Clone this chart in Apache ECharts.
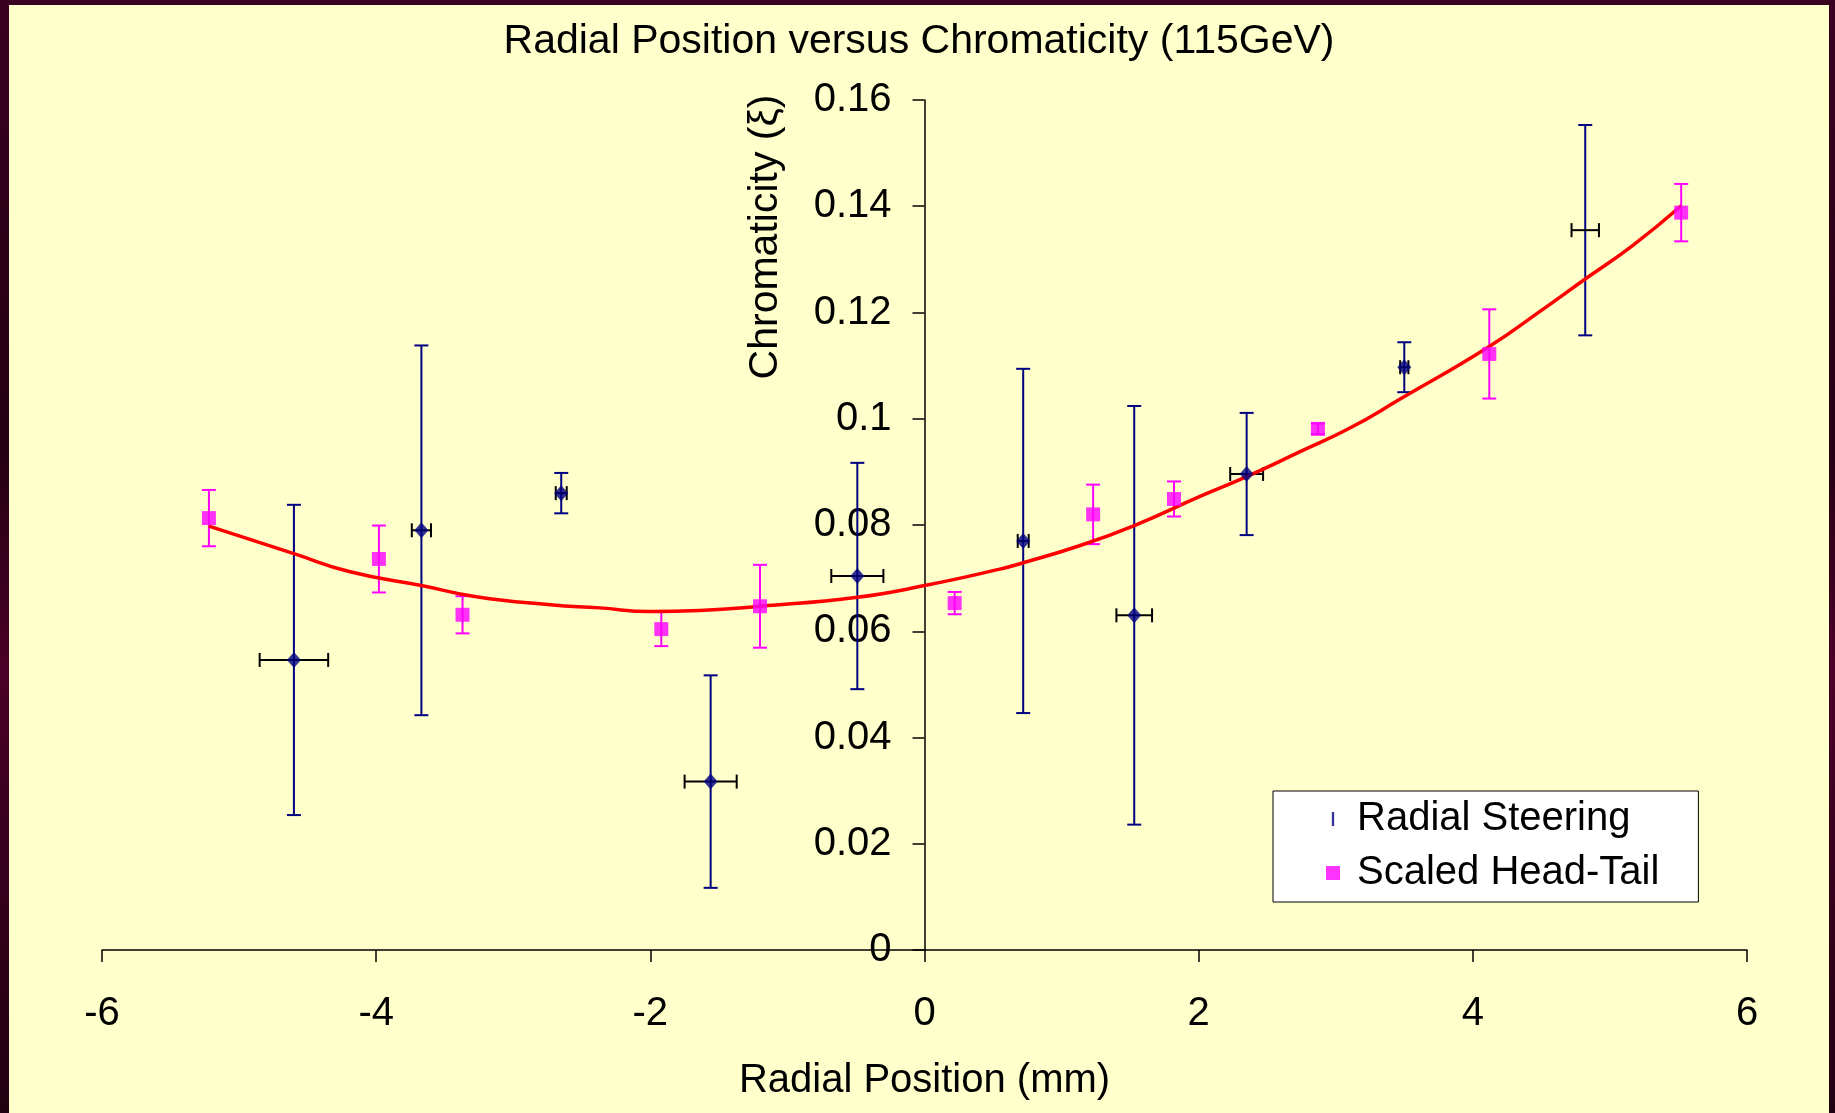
<!DOCTYPE html>
<html><head><meta charset="utf-8">
<script src="https://cdn.jsdelivr.net/npm/echarts@6/dist/echarts.min.js"></script>
<style>
html,body{margin:0;padding:0;width:1835px;height:1113px;overflow:hidden;background:#200010;}
#frame{position:absolute;left:0;top:0;width:1835px;height:1113px;background:linear-gradient(180deg,#3a0020 0%,#240012 40%,#4a0026 60%,#200010 100%);}
#chart{position:absolute;left:9px;top:5px;width:1820px;height:1108px;}
</style></head><body><div id="frame"></div><div id="chart"></div>
<script>
// Radial Steering (diamonds, x and y error bars)
const steerX    = [-4.60, -3.67, -2.65, -1.56, -0.49, 0.72, 1.53, 2.35, 3.50, 4.82];
const steerY    = [0.0546, 0.0790, 0.0860, 0.0317, 0.0704, 0.0770, 0.0630, 0.0896, 0.1097, 0.1355];
const steerYErr = [0.0292, 0.0348, 0.0038, 0.0200, 0.0213, 0.0324, 0.0394, 0.0115, 0.0047, 0.0198];
const steerXErr = [0.25, 0.07, 0.04, 0.19, 0.19, 0.04, 0.13, 0.12, 0.03, 0.10];
// Scaled Head-Tail (squares, y error bars)
const headX   = [-5.22, -3.98, -3.37, -1.92, -1.20, 0.22, 1.23, 1.82, 2.87, 4.12, 5.52];
const headY   = [0.0813, 0.0736, 0.0631, 0.0604, 0.0647, 0.0653, 0.0820, 0.0849, 0.0981, 0.1122, 0.1388];
const headErr = [0.0053, 0.0063, 0.0035, 0.0032, 0.0078, 0.0021, 0.0056, 0.0033, 0.0010, 0.0084, 0.0054];
// Fit curve (red)
const fitX = [-5.22, -4.60, -4.19, -3.67, -3.27, -2.73, -2.37, -2.00, -1.64, -1.20, -0.49, 0.00, 0.55, 0.72, 1.13, 1.53, 2.01, 2.35, 2.74, 3.10, 3.47, 4.12, 4.49, 4.82, 5.17, 5.52];
const fitY = [0.0798, 0.0746, 0.0712, 0.0686, 0.0665, 0.0650, 0.0644, 0.0637, 0.0639, 0.0647, 0.0664, 0.0686, 0.0717, 0.0729, 0.0761, 0.0799, 0.0854, 0.0891, 0.0938, 0.0982, 0.1037, 0.1136, 0.1202, 0.1263, 0.1327, 0.1401];
// Axes
const xRange = [-6, 6, 2];
const yRange = [0, 0.16, 0.02];
const titleText = 'Radial Position versus Chromaticity (115GeV)';
const xName = 'Radial Position (mm)';
const yName = 'Chromaticity (ξ)';
const seriesNames = ['Radial Steering', 'Scaled Head-Tail'];
const hiddenSteerMarker = 9;

const FONT = '"Liberation Sans", Arial, sans-serif';
const NAVY = '#000080', MAGENTA = '#FF00FF';
const GRID = { left: 93, right: 82, top: 95, bottom: 163 };
const CHART_W = 1820;

function vErr(color, cap) {
  return function (params, api) {
    const x = api.value(0), y = api.value(1), e = api.value(2);
    const hi = api.coord([x, y + e]), lo = api.coord([x, y - e]);
    const st = { stroke: color, lineWidth: 2 };
    return { type: 'group', children: [
      { type: 'line', shape: { x1: hi[0], y1: hi[1], x2: lo[0], y2: lo[1] }, style: st },
      { type: 'line', shape: { x1: hi[0] - cap, y1: hi[1], x2: hi[0] + cap, y2: hi[1] }, style: st },
      { type: 'line', shape: { x1: lo[0] - cap, y1: lo[1], x2: lo[0] + cap, y2: lo[1] }, style: st }
    ]};
  };
}
function hErr(color, cap) {
  return function (params, api) {
    const x = api.value(0), y = api.value(1), e = api.value(2);
    const l = api.coord([x - e, y]), r = api.coord([x + e, y]);
    const st = { stroke: color, lineWidth: 2 };
    return { type: 'group', children: [
      { type: 'line', shape: { x1: l[0], y1: l[1], x2: r[0], y2: r[1] }, style: st },
      { type: 'line', shape: { x1: l[0], y1: l[1] - cap, x2: l[0], y2: l[1] + cap }, style: st },
      { type: 'line', shape: { x1: r[0], y1: r[1] - cap, x2: r[0], y2: r[1] + cap }, style: st }
    ]};
  };
}

// y axis sits at x = 0: shift it from the grid's left edge to the x=0 position
const plotW = CHART_W - GRID.left - GRID.right;
const yAxisShift = -plotW * (0 - xRange[0]) / (xRange[1] - xRange[0]);

const chart = echarts.init(document.getElementById('chart'));
chart.setOption({
  animation: false,
  backgroundColor: '#FFFFCC',
  textStyle: { fontFamily: FONT },
  title: { text: titleText, left: 'center', top: 11,
    textStyle: { fontSize: 41, fontWeight: 'normal', color: '#000', fontFamily: FONT } },
  grid: Object.assign({ containLabel: false, outerBoundsMode: 'none' }, GRID),
  legend: {
    orient: 'vertical', left: 1264, top: 786,
    padding: [8, 39, 9, 53], backgroundColor: '#fff', borderColor: '#000', borderWidth: 1, borderRadius: 0,
    itemWidth: 14, itemHeight: 14, itemGap: 14,
    textStyle: { fontSize: 40, color: '#000', fontFamily: FONT, lineHeight: 40, padding: [0, 0, 0, 12] },
    data: [
      { name: seriesNames[0], icon: 'path://M0,0H2V12H0Z' },
      { name: seriesNames[1], icon: 'rect' }
    ]
  },
  xAxis: {
    type: 'value', min: xRange[0], max: xRange[1], interval: xRange[2],
    name: xName, nameLocation: 'middle', nameGap: 111,
    nameTextStyle: { fontSize: 40, color: '#000', fontFamily: FONT },
    axisLine: { onZero: false, lineStyle: { color: '#000', width: 1.5 } },
    axisTick: { length: 12, lineStyle: { color: '#000', width: 1.5 } },
    axisLabel: { fontSize: 40, color: '#000', margin: 44, fontFamily: FONT },
    splitLine: { show: false }
  },
  yAxis: {
    type: 'value', min: yRange[0], max: yRange[1], interval: yRange[2],
    position: 'left', offset: yAxisShift,
    axisLine: { onZero: false, lineStyle: { color: '#000', width: 1.5 } },
    axisTick: { length: 12, lineStyle: { color: '#000', width: 1.5 } },
    axisLabel: { fontSize: 40, color: '#000', margin: 33, fontFamily: FONT },
    splitLine: { show: false }
  },
  graphic: [{
    type: 'text', x: 757, y: 232, rotation: Math.PI / 2,
    style: { text: yName, font: '41px ' + FONT, fill: '#000', align: 'center', verticalAlign: 'middle' }
  }],
  series: [
    { type: 'custom', name: 'steerVErr', renderItem: vErr(NAVY, 7), encode: { x: 0, y: 1 }, z: 2,
      data: steerX.map((x, i) => [x, steerY[i], steerYErr[i]]) },
    { type: 'custom', name: 'steerHErr', renderItem: hErr('#000', 7), encode: { x: 0, y: 1 }, z: 2,
      data: steerX.map((x, i) => [x, steerY[i], steerXErr[i]]) },
    { type: 'custom', name: 'headErr', renderItem: vErr(MAGENTA, 7), encode: { x: 0, y: 1 }, z: 2,
      data: headX.map((x, i) => [x, headY[i], headErr[i]]) },
    { type: 'line', name: 'fit', smooth: true, showSymbol: false, symbol: 'none', z: 3,
      lineStyle: { color: '#FF0000', width: 3.5 },
      data: fitX.map((x, i) => [x, fitY[i]]) },
    { type: 'scatter', name: seriesNames[0], symbol: 'diamond', z: 4,
      symbolSize: (v, p) => p.dataIndex === hiddenSteerMarker ? 0 : [14, 16],
      itemStyle: { color: NAVY },
      data: steerX.map((x, i) => [x, steerY[i]]) },
    { type: 'scatter', name: seriesNames[1], symbol: 'rect', symbolSize: 14, z: 4,
      itemStyle: { color: MAGENTA },
      data: headX.map((x, i) => [x, headY[i]]) }
  ]
});
</script>
</body></html>
